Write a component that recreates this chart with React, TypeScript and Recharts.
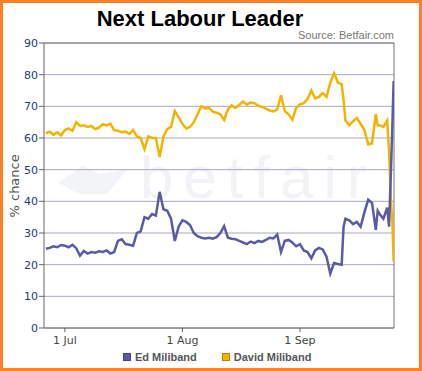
import React from 'react';
import { LineChart, Line, XAxis, YAxis, CartesianGrid, ReferenceLine } from 'recharts';

// Day offsets relative to 1 July 2010
const days: number[] = [
  -5, -4, -3, -2, -1, 0, 1, 2, 3, 4, 5, 6, 7, 8, 9, 10, 11, 12, 13, 14, 15, 16, 17, 18, 19, 20,
  21, 22, 23, 24, 25, 26, 27, 28, 29, 30, 31, 32, 33, 34, 35, 36, 37, 38, 39, 40, 41, 42, 43, 44,
  45, 46, 47, 48, 49, 50, 51, 52, 53, 54, 55, 56, 57, 58, 59, 60, 61, 62, 63, 64, 65, 66, 67, 68,
  69, 70, 71, 72, 73, 73.5, 74, 75, 76, 77, 78, 79, 80, 81, 82, 82.5, 83, 84, 85, 85.5, 86, 86.4, 86.7,
];

const edMiliband: number[] = [
  25, 25.3, 25.8, 25.5, 26.2, 26, 25.5, 26.3, 25.2, 22.8, 24.3, 23.5, 24, 23.8, 24.2, 24, 24.5, 23.5, 24, 27.5, 28, 26.5, 26.3, 26, 30, 30.5,
  35, 34.5, 36, 35.5, 43, 37.5, 37, 34.5, 27.5, 32, 34, 33.5, 32.5, 30, 29, 28.5, 28.3, 28.5, 28.2, 28.7, 30, 32.2, 28.5, 28.2,
  28, 27.5, 27, 26.5, 27.3, 26.8, 27.5, 27.2, 27.8, 28.5, 28.3, 29.5, 24, 27.5, 27.8, 27, 25.8, 26.5, 24.5, 24, 22, 24.5, 25.3, 24.8,
  22.5, 17.2, 20.5, 20.2, 20, 32, 34.5, 34, 32.8, 33.5, 32, 36.5, 40.5, 39.5, 31, 37, 36, 34.5, 38, 32, 50, 65, 78,
];

const davidMiliband: number[] = [
  61.5, 62, 61, 61.8, 60.8, 62.5, 63, 62.3, 65, 63.8, 64, 63.5, 63.8, 62.8, 63.3, 64.3, 64, 64.5, 62.5, 62.3, 61.8, 62, 61.3, 62.5, 60.5, 60,
  56.5, 60.5, 60, 60, 54, 60.5, 62.8, 63.5, 68.5, 66.5, 64.5, 63, 63.5, 65, 67.5, 70, 69.3, 69.5, 68.3, 68, 67.5, 65.7, 69, 70.3,
  69.5, 70.5, 71.5, 70.6, 71.2, 71, 70.2, 69.8, 69.3, 68.7, 68.4, 69, 73.5, 68.5, 67.5, 65.8, 69.5, 70.6, 71, 72.3, 75, 72.5, 73, 74.2,
  73, 77.5, 80.5, 77.5, 77, 72, 65.5, 64, 65.3, 66.3, 64.5, 62.5, 58, 58.3, 67.5, 64, 64, 63.5, 65.5, 56, 40, 33, 21,
];

const xTickValues: number[] = [0, 31, 62];
const xTickLabels: string[] = ['1 Jul', '1 Aug', '1 Sep'];
const yTickValues: number[] = [0, 10, 20, 30, 40, 50, 60, 70, 80, 90];

const X_MIN = -5.5;
const X_MAX = 86.8;

const data = days.map((d, i) => ({ d, ed: edMiliband[i], david: davidMiliband[i] }));

const ED_COLOR = '#5b5aa8';
const DAVID_COLOR = '#f5b301';

export default function App() {
  return (
    <div style={{ position: 'absolute', left: 0, top: 0, width: 422, height: 371, background: '#fff', overflow: 'hidden' }}>
      {/* watermark */}
      <div
        style={{
          position: 'absolute', left: 140, top: 138, fontFamily: 'Liberation Sans, Arial, sans-serif',
          fontSize: 60, letterSpacing: 10, color: '#f1f3f7', lineHeight: '80px',
        }}
      >
        betfair
      </div>
      <div
        style={{
          position: 'absolute', left: 58, top: 166, width: 70, height: 28, background: '#f3f4f7',
          clipPath: 'polygon(0% 60%, 35% 0%, 60% 30%, 100% 10%, 70% 100%, 30% 100%)',
        }}
      />
      <div style={{ position: 'absolute', left: 0, top: 0 }}>
        <LineChart width={422} height={371} data={data} margin={{ top: 43, right: 28, bottom: 13, left: 0 }}>
          <CartesianGrid horizontal vertical={false} stroke="#aaa4c6" strokeWidth={1} />
          <XAxis
            dataKey="d"
            type="number"
            domain={[X_MIN, X_MAX]}
            allowDataOverflow
            ticks={xTickValues}
            tickFormatter={(v: number) => xTickLabels[xTickValues.indexOf(v)] ?? ''}
            height={30}
            tickSize={4}
            tickMargin={4}
            stroke="#666"
            tick={{ fill: '#444', fontSize: 11, fontFamily: 'DejaVu Sans, Verdana, sans-serif' }}
          />
          <YAxis
            type="number"
            domain={[0, 90]}
            ticks={yTickValues}
            width={44}
            tickSize={5}
            tickMargin={1}
            stroke="#666"
            tick={{ fill: '#1f3d6b', fontSize: 11, fontFamily: 'DejaVu Sans, Verdana, sans-serif' }}
            label={{
              value: '% chance', angle: -90, position: 'insideLeft', offset: 14, dy: 32,
              style: { fill: '#555', fontSize: 13, fontFamily: 'DejaVu Sans, Verdana, sans-serif' },
            }}
          />
          <ReferenceLine y={90} stroke="#777" />
          <ReferenceLine x={X_MAX} stroke="#777" />
          <Line type="linear" dataKey="david" stroke={DAVID_COLOR} strokeWidth={2.5} dot={false} isAnimationActive={false} />
          <Line type="linear" dataKey="ed" stroke={ED_COLOR} strokeWidth={2.5} dot={false} isAnimationActive={false} />
        </LineChart>
      </div>
      {/* title */}
      <div
        style={{
          position: 'absolute', left: 0, width: 400, top: 5, textAlign: 'center',
          fontFamily: 'Liberation Sans, Arial, sans-serif', fontWeight: 'bold', fontSize: 22, color: '#000', lineHeight: '28px',
        }}
      >
        Next Labour Leader
      </div>
      <div
        style={{
          position: 'absolute', right: 28, top: 29, fontFamily: 'Liberation Sans, Arial, sans-serif',
          fontSize: 11, color: '#777', lineHeight: '13px',
        }}
      >
        Source: Betfair.com
      </div>
      {/* legend */}
      <div style={{ position: 'absolute', left: 123, top: 350, display: 'flex', alignItems: 'center', fontFamily: 'Liberation Sans, Arial, sans-serif', fontWeight: 'bold', fontSize: 11, color: '#555', lineHeight: '14px' }}>
        <span style={{ display: 'inline-block', width: 6, height: 6, background: ED_COLOR, border: '1px solid #44447a', marginRight: 4 }} />
        <span>Ed Miliband</span>
        <span style={{ display: 'inline-block', width: 6, height: 6, background: DAVID_COLOR, border: '1px solid #b88200', marginLeft: 25, marginRight: 4 }} />
        <span>David Miliband</span>
      </div>
      {/* orange frame */}
      <div style={{ position: 'absolute', left: 0, top: 0, width: 422, height: 371, boxSizing: 'border-box', border: '3px solid #ff7f24', pointerEvents: 'none' }} />
    </div>
  );
}
